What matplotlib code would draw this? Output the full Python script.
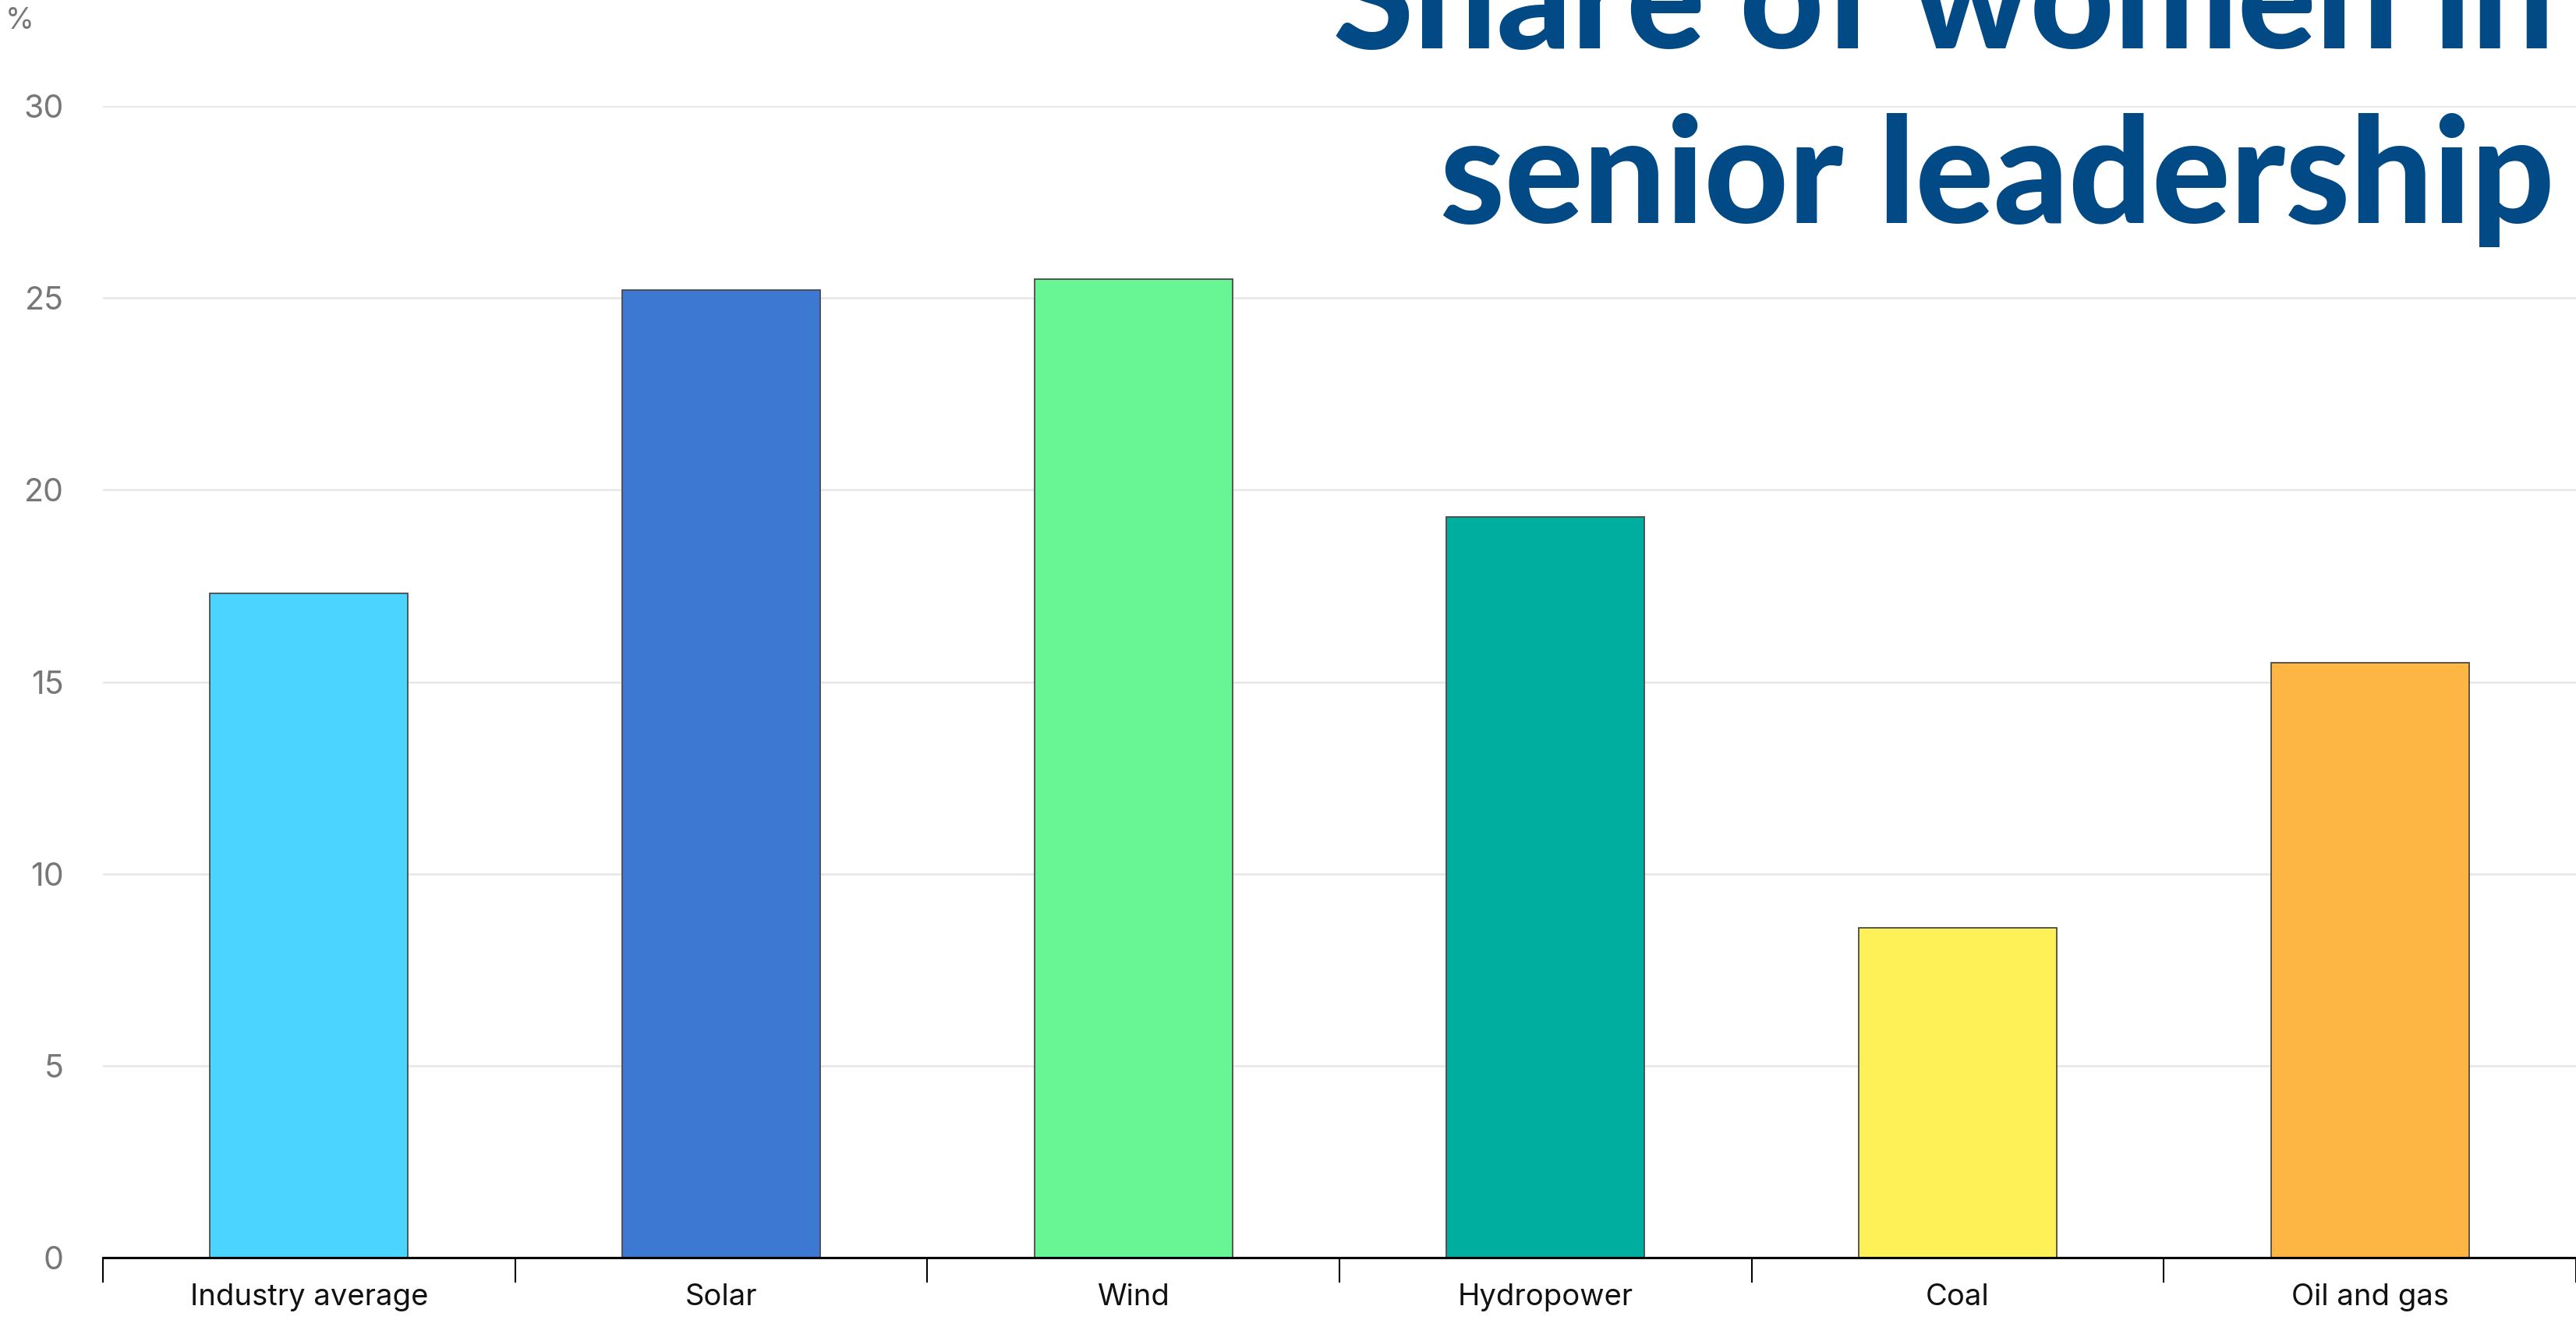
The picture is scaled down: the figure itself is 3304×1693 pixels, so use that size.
import matplotlib
matplotlib.use("Agg")
import matplotlib.pyplot as plt
from matplotlib.ticker import FixedLocator

# data
categories = ["Industry average", "Solar", "Wind", "Hydropower", "Coal", "Oil and gas"]
share_pct = [17.3, 25.2, 25.5, 19.3, 8.6, 15.5]
bar_colors = ["#4AD4FF", "#3D78D3", "#68F594", "#00AE9F", "#FEF157", "#FDB643"]
y_ticks = [0, 5, 10, 15, 20, 25, 30]

W, H = 3304, 1693
fig = plt.figure(figsize=(W / 100, H / 100), dpi=100)
ax = fig.add_axes([132 / W, 1 - 1613 / H, 1 - 132 / W, (1613 - 136) / H])

x = list(range(len(categories)))
ax.bar(x, share_pct, width=0.48, color=bar_colors, edgecolor="#4a4a4a",
       linewidth=1.3, zorder=3)

ax.set_xlim(-0.5, len(categories) - 0.5)
ax.set_ylim(0, 30)
ax.set_yticks(y_ticks)
ax.yaxis.grid(True, color="#e6e6e6", linewidth=1.8, zorder=0)
ax.set_axisbelow(True)

for s in ["top", "right", "left"]:
    ax.spines[s].set_visible(False)
ax.spines["bottom"].set_color("black")
ax.spines["bottom"].set_linewidth(2.2)
ax.spines["bottom"].set_zorder(4)

# category labels at centres, tick marks at the boundaries
ax.set_xticks(x)
ax.set_xticklabels(categories, fontsize=27.5, family="Inter", color="#111111")
ax.tick_params(axis="x", which="major", length=0, pad=24)
ax.xaxis.set_minor_locator(FixedLocator([i - 0.5 for i in range(len(categories) + 1)]))
ax.tick_params(axis="x", which="minor", length=23, width=1.5, color="black")

ax.tick_params(axis="y", length=0, pad=36, labelsize=29.5, labelcolor="#777777")
for lab in ax.get_yticklabels():
    lab.set_family("Inter")

fig.text(7 / W, 1 - 37 / H, "%", fontsize=27, color="#777777", family="Inter",
         va="baseline", ha="left")

# big title, cut at the top like the original
title_kw = dict(fontsize=135, fontweight="black", family="Lato", color="#024A86",
                ha="right", va="baseline")
fig.text(3276 / W, 1 - 62 / H, "Share of women in", **title_kw)
fig.text(3276 / W, 1 - 286 / H, "senior leadership", **title_kw)

fig.savefig("out.png", dpi=100)
